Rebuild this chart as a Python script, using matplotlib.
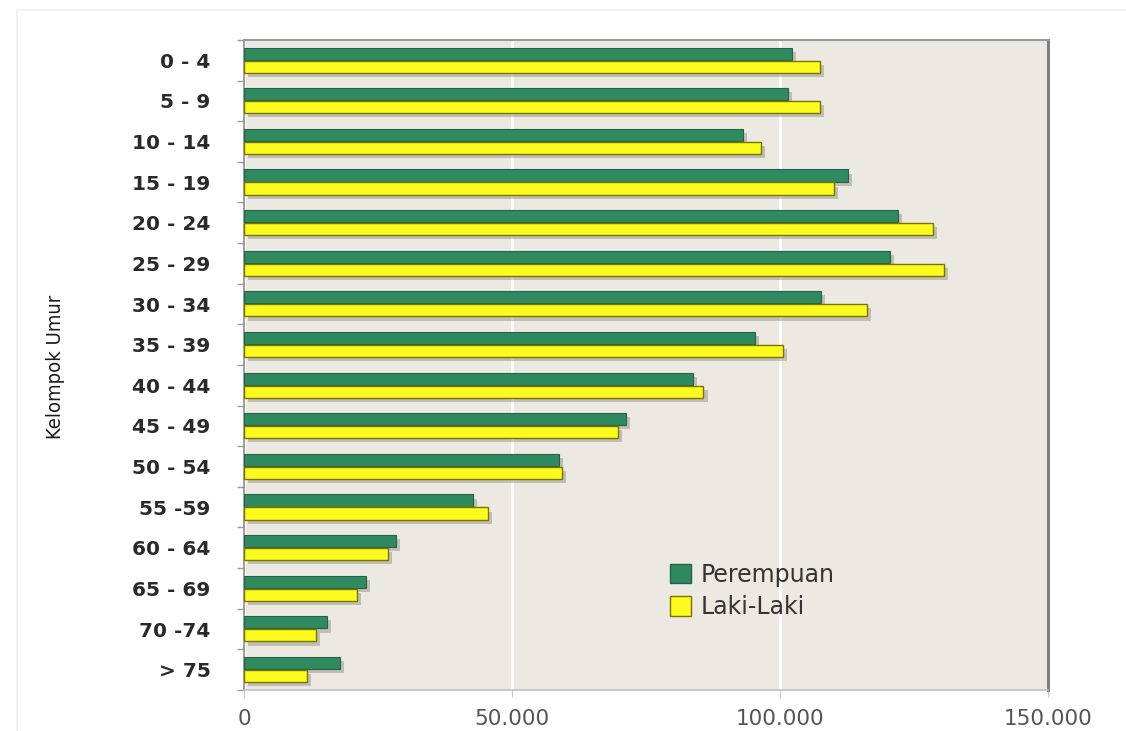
from __future__ import annotations

import matplotlib

matplotlib.use("Agg")

import matplotlib.patheffects as pe
import matplotlib.pyplot as plt
import numpy as np
from matplotlib.patches import Patch, Rectangle
from matplotlib.ticker import FuncFormatter


AGE_GROUPS = [
    "0 - 4", "5 - 9", "10 - 14", "15 - 19", "20 - 24", "25 - 29",
    "30 - 34", "35 - 39", "40 - 44", "45 - 49", "50 - 54", "55 -59",
    "60 - 64", "65 - 69", "70 -74", "> 75",
]
# values (people)
PEREMPUAN = [
    102200, 101400, 93100, 112600, 122000, 120500, 107600, 95300,
    83800, 71300, 58800, 42700, 28400, 22800, 15500, 17900,
]
LAKI_LAKI = [
    107500, 107500, 96400, 110000, 128500, 130500, 116200, 100500,
    85700, 69800, 59300, 45500, 26900, 21100, 13400, 11800,
]
X_TICKS = [0, 50000, 100000, 150000]

GREEN = "#2f8a5f"
YELLOW = "#fbfb1e"
PLOT_BG = "#ece9e2"


def thousands(x, _pos) -> str:
    return f"{int(x):,}".replace(",", ".")


def main() -> None:
    fig = plt.figure(figsize=(11.26, 7.31), dpi=100)
    fig.patch.set_facecolor("white")

    # faint outer frame of the pasted chart object
    fig.patches.append(
        Rectangle((0.015, -0.01), 1.1, 0.997, transform=fig.transFigure,
                  fill=False, edgecolor="#efefef", linewidth=1.2)
    )

    ax = fig.add_axes([0.2167, 0.0561, 0.7141, 0.8892])
    ax.set_facecolor(PLOT_BG)

    y = np.arange(len(AGE_GROUPS))
    h = 0.30
    shadow = [pe.SimplePatchShadow(offset=(3, -3), shadow_rgbFace="#8a8a80",
                                   alpha=0.45), pe.Normal()]

    ax.barh(y - 0.165, PEREMPUAN, height=h, color=GREEN, edgecolor="#24604a",
            linewidth=0.8, path_effects=shadow, zorder=3, label="Perempuan")
    ax.barh(y + 0.155, LAKI_LAKI, height=h, color=YELLOW, edgecolor="#7d7200",
            linewidth=1.0, path_effects=shadow, zorder=3, label="Laki-Laki")

    ax.set_xlim(0, 150000)
    ax.set_ylim(len(AGE_GROUPS) - 0.5, -0.5)

    ax.set_xticks(X_TICKS)
    ax.xaxis.set_major_formatter(FuncFormatter(thousands))
    ax.grid(axis="x", color="white", linewidth=2, zorder=1)
    ax.set_axisbelow(True)

    ax.set_yticks(y)
    ax.set_yticklabels(AGE_GROUPS, fontsize=14.5, fontweight="bold",
                       color="#2a2a2a")
    ax.set_yticks(np.arange(len(AGE_GROUPS) + 1) - 0.5, minor=True)
    ax.tick_params(axis="y", which="major", length=0, pad=24)
    ax.tick_params(axis="y", which="minor", length=5, color="#9a9aa8",
                   width=1)
    ax.tick_params(axis="x", which="major", length=5, color="#c8c8c8",
                   labelsize=15.5, labelcolor="#555555", pad=9)

    ax.spines["left"].set_color("#8c8c8c")
    ax.spines["left"].set_linewidth(1.2)
    ax.spines["bottom"].set_color("#c0c0c0")
    ax.spines["bottom"].set_linewidth(1.2)
    ax.spines["top"].set_color("#9a9a9a")
    ax.spines["top"].set_linewidth(1.5)
    ax.spines["right"].set_color("#7f7f7f")
    ax.spines["right"].set_linewidth(2.2)

    fig.text(0.049, 0.498, "Kelompok Umur", rotation=90, ha="center",
             va="center", fontsize=14.5, color="#1a1a1a",
             fontstretch="condensed", family=["DejaVu Sans"])

    handles = [
        Patch(facecolor=GREEN, edgecolor="#24604a", label="Perempuan"),
        Patch(facecolor=YELLOW, edgecolor="#7d7200", label="Laki-Laki"),
    ]
    leg = ax.legend(handles=handles, loc="upper left",
                    bbox_to_anchor=(0.515, 0.214), frameon=False,
                    fontsize=17, handlelength=0.9, handleheight=0.9,
                    handletextpad=0.4, labelspacing=0.35, borderpad=0)
    for text in leg.get_texts():
        text.set_color("#333333")

    fig.savefig("out.png", dpi=100, facecolor=fig.get_facecolor())
    plt.close(fig)


if __name__ == "__main__":
    main()
